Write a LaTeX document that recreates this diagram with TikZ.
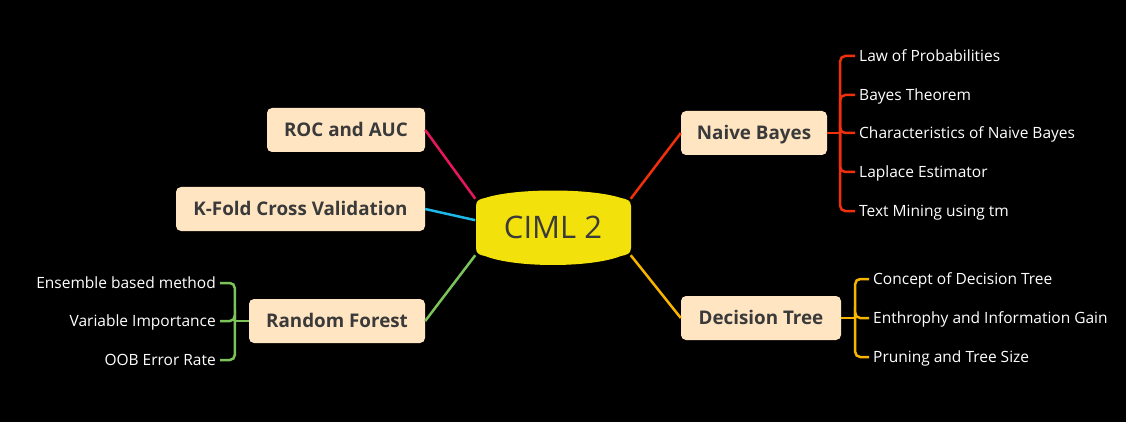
\documentclass[tikz,border=0pt]{standalone}
\usepackage{fontspec}
\setmainfont{Open Sans}
\usetikzlibrary{calc,positioning}
\definecolor{peach}{HTML}{FFE5C2}
\definecolor{cimlyellow}{HTML}{F3E10B}
\definecolor{boxtext}{HTML}{3A3A3A}
\definecolor{rocred}{HTML}{E8175D}
\definecolor{kfoldblue}{HTML}{1EB8E6}
\definecolor{rfgreen}{HTML}{7CC35A}
\definecolor{nbred}{HTML}{F0300A}
\definecolor{dtorange}{HTML}{F7B500}
\tikzset{topic box/.style={rectangle,rounded corners=5pt,fill=peach,text=boxtext,minimum height=44pt,inner sep=0pt,text height=13.5pt,text depth=0.5pt,font=\bfseries\fontsize{18.8}{22}\selectfont},
  leaf text/.style={text=white,inner xsep=4pt,inner ysep=0pt,text height=11.5pt,text depth=1pt,font=\fontsize{15.5}{18}\selectfont},
  branch/.style={line width=2.5pt},
  bracket/.style={line width=2.5pt,rounded corners=5pt}}
\begin{document}
\begin{tikzpicture}[x=1pt,y=-1pt]
        \fill [black] (0,0) rectangle (1126,422);
        
        % central topic
        \fill [cimlyellow] (476,206) .. controls (476,200) and (480,199) .. (485,198) .. controls (515,188) and (591,188) .. (621,198) .. controls (626,199) and (631,200) .. (631,206) -- (631,248) .. controls (631,254) and (626,255) .. (621,256) .. controls (591,268) and (515,268) .. (485,256) .. controls (480,255) and (476,254) .. (476,248) -- cycle;
        \node (ciml)	[minimum width=155pt,minimum height=56pt,inner sep=0pt,text=boxtext,font=\fontsize{31}{36}\selectfont] at	(553,227)	{CIML 2};
        
        % main topics
        \node (roc)	[topic box,minimum width=158pt] at	(346,130)	{ROC and AUC};
        \node (kfold)	[topic box,minimum width=249pt] at	(300.5,209)	{K-Fold Cross Validation};
        \node (rf)	[topic box,minimum width=176pt] at	(337,321)	{Random Forest};
        \node (nb)	[topic box,minimum width=146pt] at	(754,133)	{Naive Bayes};
        \node (dt)	[topic box,minimum width=160pt] at	(761,318)	{Decision Tree};
        
        % leaves
        \node (nb1)	[leaf text,anchor=west] at	(855,56)	{Law of Probabilities};
        \node (nb2)	[leaf text,anchor=west] at	(855,95)	{Bayes Theorem};
        \node (nb3)	[leaf text,anchor=west] at	(855,133)	{Characteristics of Naive Bayes};
        \node (nb4)	[leaf text,anchor=west] at	(855,172)	{Laplace Estimator};
        \node (nb5)	[leaf text,anchor=west] at	(855,211)	{Text Mining using tm};
        \node (dt1)	[leaf text,anchor=west] at	(869,279)	{Concept of Decision Tree};
        \node (dt2)	[leaf text,anchor=west] at	(869,318)	{Enthrophy and Information Gain};
        \node (dt3)	[leaf text,anchor=west] at	(869,357)	{Pruning and Tree Size};
        \node (rf1)	[leaf text,anchor=east] at	(220,283)	{Ensemble based method};
        \node (rf2)	[leaf text,anchor=east] at	(220,321)	{Variable Importance};
        \node (rf3)	[leaf text,anchor=east] at	(220,360)	{OOB Error Rate};
        
        % branches to the centre
        \draw [branch,rocred] (roc.east) -- (ciml.north west);
        \draw [branch,kfoldblue] (kfold.east) -- (ciml.175);
        \draw [branch,rfgreen] (rf.east) -- (ciml.south west);
        \draw [branch,nbred] (nb.west) -- (ciml.north east);
        \draw [branch,dtorange] (dt.west) -- (ciml.south east);
        
        % brackets
        \draw [branch,nbred] (nb.east) -- ++(13,0) coordinate (nbj);
        \foreach \i in {1,...,5}
            \draw [bracket,nbred] (nbj) |- (nb\i.west);
        \draw [branch,dtorange] (dt.east) -- ++(14,0) coordinate (dtj);
        \foreach \i in {1,2,3}
            \draw [bracket,dtorange] (dtj) |- (dt\i.west);
        \draw [branch,rfgreen] (rf.west) -- ++(-14,0) coordinate (rfj);
        \foreach \i in {1,2,3}
            \draw [bracket,rfgreen] (rfj) |- (rf\i.east);
        \end{tikzpicture}
\end{document}
